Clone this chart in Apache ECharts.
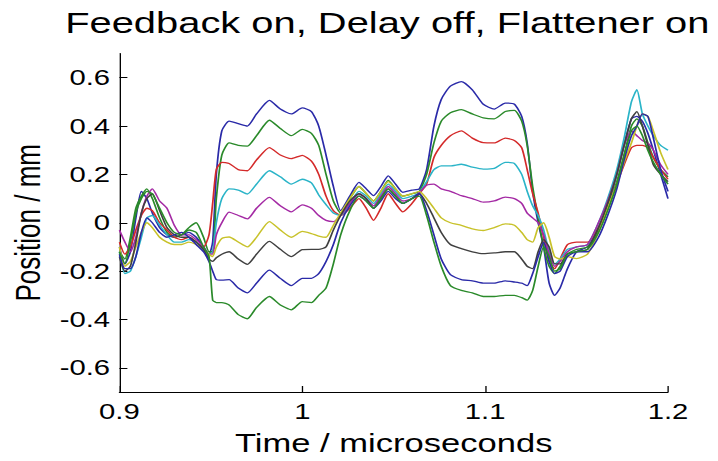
<!DOCTYPE html>
<html>
<head>
<meta charset="utf-8">
<script src="https://cdn.jsdelivr.net/npm/echarts@6/dist/echarts.min.js"></script>
<style>
html,body{margin:0;padding:0;background:#fff;overflow:hidden;width:718px;height:461px;}
#chart{width:540px;height:461px;transform:scaleX(1.3296);transform-origin:0 0;}
</style>
</head>
<body>
<div id="chart"></div>
<script>
const titleText = "Feedback on, Delay off, Flattener on";
const xName = "Time / microseconds";
const yName = "Position / mm";
const yTicks = [-0.6, -0.4, -0.2, 0, 0.2, 0.4, 0.6];

const time = [0.900,0.903,0.906,0.909,0.912,0.915,0.918,0.922,0.926,0.930,0.934,0.938,0.942,0.946,0.949,0.951,0.953,0.956,0.960,0.965,0.970,0.975,0.982,0.988,0.994,1.000,1.005,1.009,1.013,1.017,1.021,1.026,1.031,1.035,1.039,1.043,1.047,1.051,1.055,1.060,1.064,1.068,1.072,1.076,1.081,1.087,1.093,1.099,1.105,1.111,1.116,1.120,1.123,1.126,1.129,1.132,1.135,1.138,1.141,1.145,1.150,1.156,1.162,1.167,1.172,1.176,1.180,1.183,1.186,1.189,1.192,1.196,1.200];

const blueTop = [-0.10,-0.17,-0.12,0.02,0.13,0.10,0.04,-0.02,-0.05,-0.06,-0.05,-0.04,-0.06,-0.10,-0.13,-0.08,0.20,0.38,0.42,0.41,0.40,0.45,0.506,0.47,0.45,0.475,0.46,0.40,0.28,0.15,0.05,0.11,0.167,0.14,0.112,0.15,0.194,0.16,0.126,0.135,0.14,0.22,0.40,0.51,0.565,0.584,0.55,0.49,0.47,0.495,0.49,0.44,0.33,0.13,0.0,-0.10,-0.25,-0.30,-0.27,-0.19,-0.12,-0.10,-0.02,0.07,0.20,0.32,0.43,0.44,0.42,0.37,0.30,0.20,0.10];
const greenTop = [-0.12,-0.15,-0.06,0.06,0.11,0.14,0.10,0.02,-0.04,-0.06,-0.05,-0.02,0.0,-0.06,-0.12,-0.12,0.10,0.28,0.33,0.32,0.317,0.36,0.424,0.39,0.36,0.386,0.37,0.32,0.20,0.09,0.04,0.10,0.15,0.12,0.09,0.13,0.175,0.14,0.11,0.12,0.13,0.20,0.33,0.42,0.455,0.468,0.45,0.434,0.43,0.46,0.465,0.42,0.32,0.15,0.02,-0.10,-0.18,-0.21,-0.18,-0.13,-0.11,-0.10,-0.03,0.06,0.17,0.28,0.40,0.43,0.40,0.33,0.27,0.22,0.19];
const redMid = [-0.08,-0.13,-0.10,-0.03,0.03,0.06,0.05,0.0,-0.03,-0.06,-0.07,-0.06,-0.08,-0.10,-0.05,0.08,0.22,0.25,0.245,0.22,0.215,0.26,0.311,0.28,0.265,0.279,0.255,0.20,0.11,0.05,0.03,0.06,0.10,0.06,0.01,0.06,0.12,0.08,0.045,0.08,0.12,0.16,0.27,0.32,0.36,0.38,0.35,0.331,0.33,0.35,0.34,0.31,0.22,0.12,0.04,-0.06,-0.16,-0.19,-0.15,-0.09,-0.08,-0.08,-0.02,0.06,0.16,0.24,0.31,0.32,0.32,0.31,0.27,0.22,0.18];
const cyanMid = [-0.12,-0.21,-0.20,-0.14,-0.06,0.02,0.03,-0.01,-0.05,-0.08,-0.08,-0.07,-0.08,-0.11,-0.13,-0.12,0.0,0.10,0.14,0.135,0.119,0.16,0.215,0.19,0.16,0.18,0.165,0.115,0.075,0.04,0.03,0.08,0.13,0.11,0.08,0.12,0.16,0.13,0.10,0.11,0.125,0.17,0.22,0.235,0.235,0.242,0.23,0.222,0.225,0.25,0.245,0.20,0.13,0.07,0.03,-0.03,-0.12,-0.17,-0.15,-0.11,-0.10,-0.09,0.0,0.10,0.22,0.35,0.50,0.55,0.45,0.40,0.36,0.32,0.30];
const magentaMid = [-0.03,-0.08,-0.12,-0.06,0.04,0.11,0.14,0.09,0.06,-0.01,-0.05,-0.05,-0.07,-0.10,-0.13,-0.13,-0.05,0.0,0.044,0.03,0.016,0.06,0.105,0.07,0.045,0.074,0.06,0.03,0.01,0.005,0.03,0.08,0.12,0.10,0.07,0.11,0.15,0.12,0.09,0.10,0.125,0.155,0.16,0.14,0.13,0.112,0.10,0.085,0.09,0.106,0.10,0.08,0.04,0.02,0.0,-0.05,-0.13,-0.18,-0.16,-0.12,-0.10,-0.09,0.0,0.09,0.20,0.32,0.38,0.36,0.34,0.33,0.30,0.24,0.20];
const yellowMid = [-0.10,-0.18,-0.16,-0.10,-0.04,0.0,-0.02,-0.06,-0.08,-0.09,-0.09,-0.08,-0.09,-0.11,-0.13,-0.14,-0.10,-0.065,-0.059,-0.08,-0.10,-0.06,0.005,-0.03,-0.06,-0.036,-0.045,-0.055,-0.06,-0.01,0.04,0.10,0.15,0.12,0.09,0.13,0.17,0.14,0.11,0.12,0.13,0.10,0.06,0.02,0.0,-0.011,-0.025,-0.032,-0.02,-0.005,-0.01,-0.04,-0.07,-0.08,-0.02,0.0,-0.06,-0.14,-0.15,-0.14,-0.148,-0.13,-0.04,0.06,0.16,0.25,0.33,0.40,0.45,0.44,0.38,0.29,0.22];
const blackMid = [-0.14,-0.20,-0.18,-0.08,0.04,0.10,0.12,0.05,-0.02,-0.05,-0.06,-0.06,-0.08,-0.11,-0.15,-0.16,-0.145,-0.13,-0.12,-0.15,-0.172,-0.13,-0.077,-0.11,-0.14,-0.111,-0.11,-0.11,-0.10,-0.03,0.03,0.09,0.12,0.10,0.06,0.10,0.14,0.11,0.08,0.10,0.12,0.08,0.02,-0.04,-0.09,-0.107,-0.12,-0.128,-0.125,-0.12,-0.12,-0.15,-0.18,-0.19,-0.12,-0.07,-0.10,-0.17,-0.17,-0.13,-0.12,-0.11,-0.02,0.08,0.20,0.32,0.43,0.46,0.40,0.32,0.24,0.20,0.17];
const blueLow = [-0.13,-0.19,-0.19,-0.14,-0.04,0.02,0.0,-0.04,-0.06,-0.05,-0.04,-0.06,-0.09,-0.12,-0.16,-0.20,-0.235,-0.237,-0.235,-0.27,-0.29,-0.25,-0.196,-0.23,-0.26,-0.23,-0.23,-0.21,-0.16,-0.09,0.0,0.07,0.11,0.09,0.06,0.09,0.13,0.10,0.08,0.10,0.12,0.05,-0.05,-0.15,-0.215,-0.235,-0.24,-0.25,-0.25,-0.24,-0.245,-0.25,-0.26,-0.21,-0.14,-0.08,-0.16,-0.21,-0.20,-0.14,-0.12,-0.12,-0.06,0.03,0.14,0.26,0.36,0.40,0.45,0.44,0.35,0.22,0.13];
const greenLow = [-0.12,-0.17,-0.08,0.04,0.10,0.13,0.12,0.06,0.0,-0.04,-0.05,-0.03,-0.04,-0.10,-0.14,-0.32,-0.33,-0.33,-0.34,-0.38,-0.397,-0.35,-0.305,-0.34,-0.36,-0.326,-0.33,-0.30,-0.27,-0.17,-0.05,0.05,0.11,0.09,0.06,0.10,0.14,0.11,0.08,0.10,0.11,0.03,-0.08,-0.18,-0.26,-0.28,-0.29,-0.305,-0.305,-0.30,-0.30,-0.31,-0.32,-0.28,-0.18,-0.10,-0.14,-0.20,-0.19,-0.13,-0.12,-0.11,-0.04,0.05,0.16,0.28,0.38,0.40,0.36,0.30,0.25,0.20,0.16];

const traces = [blueTop, greenTop, redMid, cyanMid, magentaMid, yellowMid, blackMid, blueLow, greenLow];
const colors = ['#2a2aa8','#2a8a2a','#d42a2a','#2ab4c8','#a42aa4','#c8c22a','#404040','#2a2aa8','#2a8a2a'];

const font = "'Liberation Sans', Arial, Helvetica, sans-serif";
const chart = echarts.init(document.getElementById('chart'), null, {renderer: 'svg'});
chart.setOption({
  animation: false,
  backgroundColor: '#fff',
  title: {
    text: titleText, left: 44, top: 2,
    textStyle: {fontSize: 30, fontWeight: 'normal', color: '#000', fontFamily: font}
  },
  grid: {left: 85.7, right: 37.6, top: 53.5, bottom: 66.5, containLabel: false},
  xAxis: {
    type: 'value', min: 0.9, max: 1.2, interval: 0.1,
    name: xName, nameLocation: 'middle', nameGap: 38,
    nameTextStyle: {fontSize: 26, color: '#000', fontFamily: font},
    axisLine: {show: true, onZero: false, lineStyle: {color: '#000', width: 1}},
    axisTick: {show: true, inside: true, length: 6, lineStyle: {color: '#000'}},
    axisLabel: {fontSize: 22, color: '#000', margin: 8, fontFamily: font,
      formatter: v => String(+v.toFixed(2))},
    splitLine: {show: false}
  },
  yAxis: {
    type: 'value', min: -0.7, max: 0.7,
    name: yName, nameLocation: 'middle', nameGap: 50, nameRotate: 90,
    nameTextStyle: {fontSize: 26, color: '#000', fontFamily: font},
    axisLine: {show: true, onZero: false, lineStyle: {color: '#000', width: 1}},
    axisTick: {show: true, inside: true, length: 6, customValues: yTicks, lineStyle: {color: '#000'}},
    axisLabel: {fontSize: 22, color: '#000', margin: 7, fontFamily: font, customValues: yTicks,
      formatter: v => String(+v.toFixed(2))},
    splitLine: {show: false}
  },
  series: traces.map((arr, k) => ({
    type: 'line',
    data: time.map((t, i) => [t, arr[i]]),
    showSymbol: false, symbol: 'none',
    smooth: 0.2,
    lineStyle: {color: colors[k], width: 1.3},
    itemStyle: {color: colors[k]}
  }))
});
</script>
</body>
</html>
